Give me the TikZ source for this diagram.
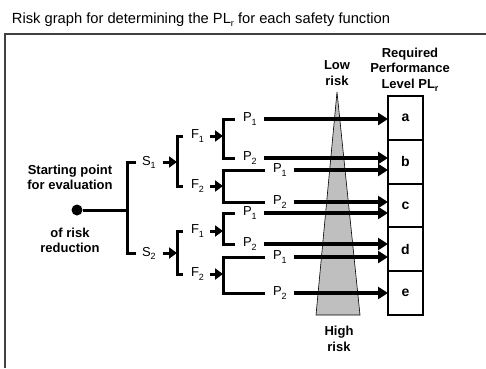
\documentclass[tikz,border=0pt]{standalone}
\usepackage{fontspec}
\setmainfont{Liberation Sans}
\usetikzlibrary{arrows.meta}

% lowered small index, as in P_1, S_2, PL_r
\newcommand\lowsub[1]{\raisebox{-0.45ex}{\fontsize{9}{9}\selectfont #1}}

\begin{document}
\begin{tikzpicture}[x=1pt,y=-1pt,
  every node/.style={inner sep=0pt, outer sep=0pt},
  br/.style={line width=3pt, line join=miter},
  sarr/.style={line width=3pt, -{Triangle[length=8pt,width=11pt]}},
  larr/.style={line width=3.5pt, -{Triangle[length=10pt,width=12pt]}},
  lab/.style={font=\fontsize{13}{15}\selectfont, anchor=west},
  boldtxt/.style={font=\bfseries\fontsize{13}{15.5}\selectfont, align=center},
  lvl/.style={draw, line width=2pt, minimum width=35pt, minimum height=43.8pt,
              font=\bfseries\fontsize{14}{14}\selectfont},
  tri/.style={fill=gray!50, draw=black, line width=0.6pt},
  frameline/.style={draw=black!75, line width=1.5pt}]

\useasboundingbox (0,0) rectangle (486,368);
\fill[white] (0,0) rectangle (486,368);

% heading and frame
\node[anchor=base west, font=\fontsize{14.7}{16}\selectfont] (title) at (12,23)
  {Risk graph for determining the PL\lowsub{r} for each safety function};
\draw[frameline] (5,368) -- (5,34) -- (486,34);

% risk wedge
\coordinate (apex) at (337,92);
\coordinate (wl) at (316,315);
\coordinate (wr) at (360,315);
\filldraw[tri] (apex) -- (wl) -- (wr) -- cycle;
\node[boldtxt] (low) at (337,73) {Low\\risk};
\node[boldtxt] (high) at (339,339) {High\\risk};

% performance level column
\node[boldtxt] (req) at (410,69.5) {Required\\Performance\\Level PL\lowsub{r}};
\node[lvl] (lvla) at (405.5,117.9) {a};
\node[lvl] (lvlb) at (405.5,161.7) {b};
\node[lvl] (lvlc) at (405.5,205.5) {c};
\node[lvl] (lvld) at (405.5,249.3) {d};
\node[lvl] (lvle) at (405.5,293.1) {e};

% starting point
\node[circle, fill, minimum size=11pt] (start) at (77,210) {};
\node[boldtxt] (stxt) at (70,177.5) {Starting point\\for evaluation};
\node[boldtxt] (rtxt) at (70,240.5) {of risk\\reduction};

% severity
\coordinate (mj) at (127,210);
\node[lab] (s1) at (142,162) {S\lowsub{1}};
\node[lab] (s2) at (142,253) {S\lowsub{2}};
\draw[br] (start) -- (mj);
\draw[br] ([xshift=-6pt]s1.west) -| (mj) |- ([xshift=-6pt]s2.west);

% frequency
\coordinate (js1) at (177,162);
\coordinate (js2) at (177,253);
\node[lab] (f11) at (191,136) {F\lowsub{1}};
\node[lab] (f12) at (191,186) {F\lowsub{2}};
\node[lab] (f21) at (191,231) {F\lowsub{1}};
\node[lab] (f22) at (191,274) {F\lowsub{2}};
\draw[sarr] ([xshift=7pt]s1.east) -- (js1);
\draw[sarr] ([xshift=7pt]s2.east) -- (js2);
\draw[br] ([xshift=-8pt]f11.west) -| (js1) |- ([xshift=-8pt]f12.west);
\draw[br] ([xshift=-8pt]f21.west) -| (js2) |- ([xshift=-8pt]f22.west);

% possibility of avoidance
\coordinate (j11) at (223,136);
\coordinate (j12) at (223,186);
\coordinate (j21) at (223,231);
\coordinate (j22) at (223,274);
\node[lab] (p111) at (243,119) {P\lowsub{1}};
\node[lab] (p112) at (243,158) {P\lowsub{2}};
\node[lab] (p121) at (273,170) {P\lowsub{1}};
\node[lab] (p122) at (273,202) {P\lowsub{2}};
\node[lab] (p211) at (243,213) {P\lowsub{1}};
\node[lab] (p212) at (243,244) {P\lowsub{2}};
\node[lab] (p221) at (273,257) {P\lowsub{1}};
\node[lab] (p222) at (273,293) {P\lowsub{2}};
\foreach \f in {11,12,21,22}
  \draw[sarr] ([xshift=6pt]f\f.east) -- (j\f);
\foreach \f in {11,12,21,22}
  \draw[br] ([xshift=-8pt]p\f1.west) -| (j\f) |- ([xshift=-8pt]p\f2.west);

% paths to the required level
\foreach \p/\l in {111/a,112/b,121/b,122/c,211/c,212/d,221/d,222/e}
  \draw[larr] ([xshift=7pt]p\p.east) -- (p\p.east -| lvl\l.west);

\end{tikzpicture}
\end{document}
